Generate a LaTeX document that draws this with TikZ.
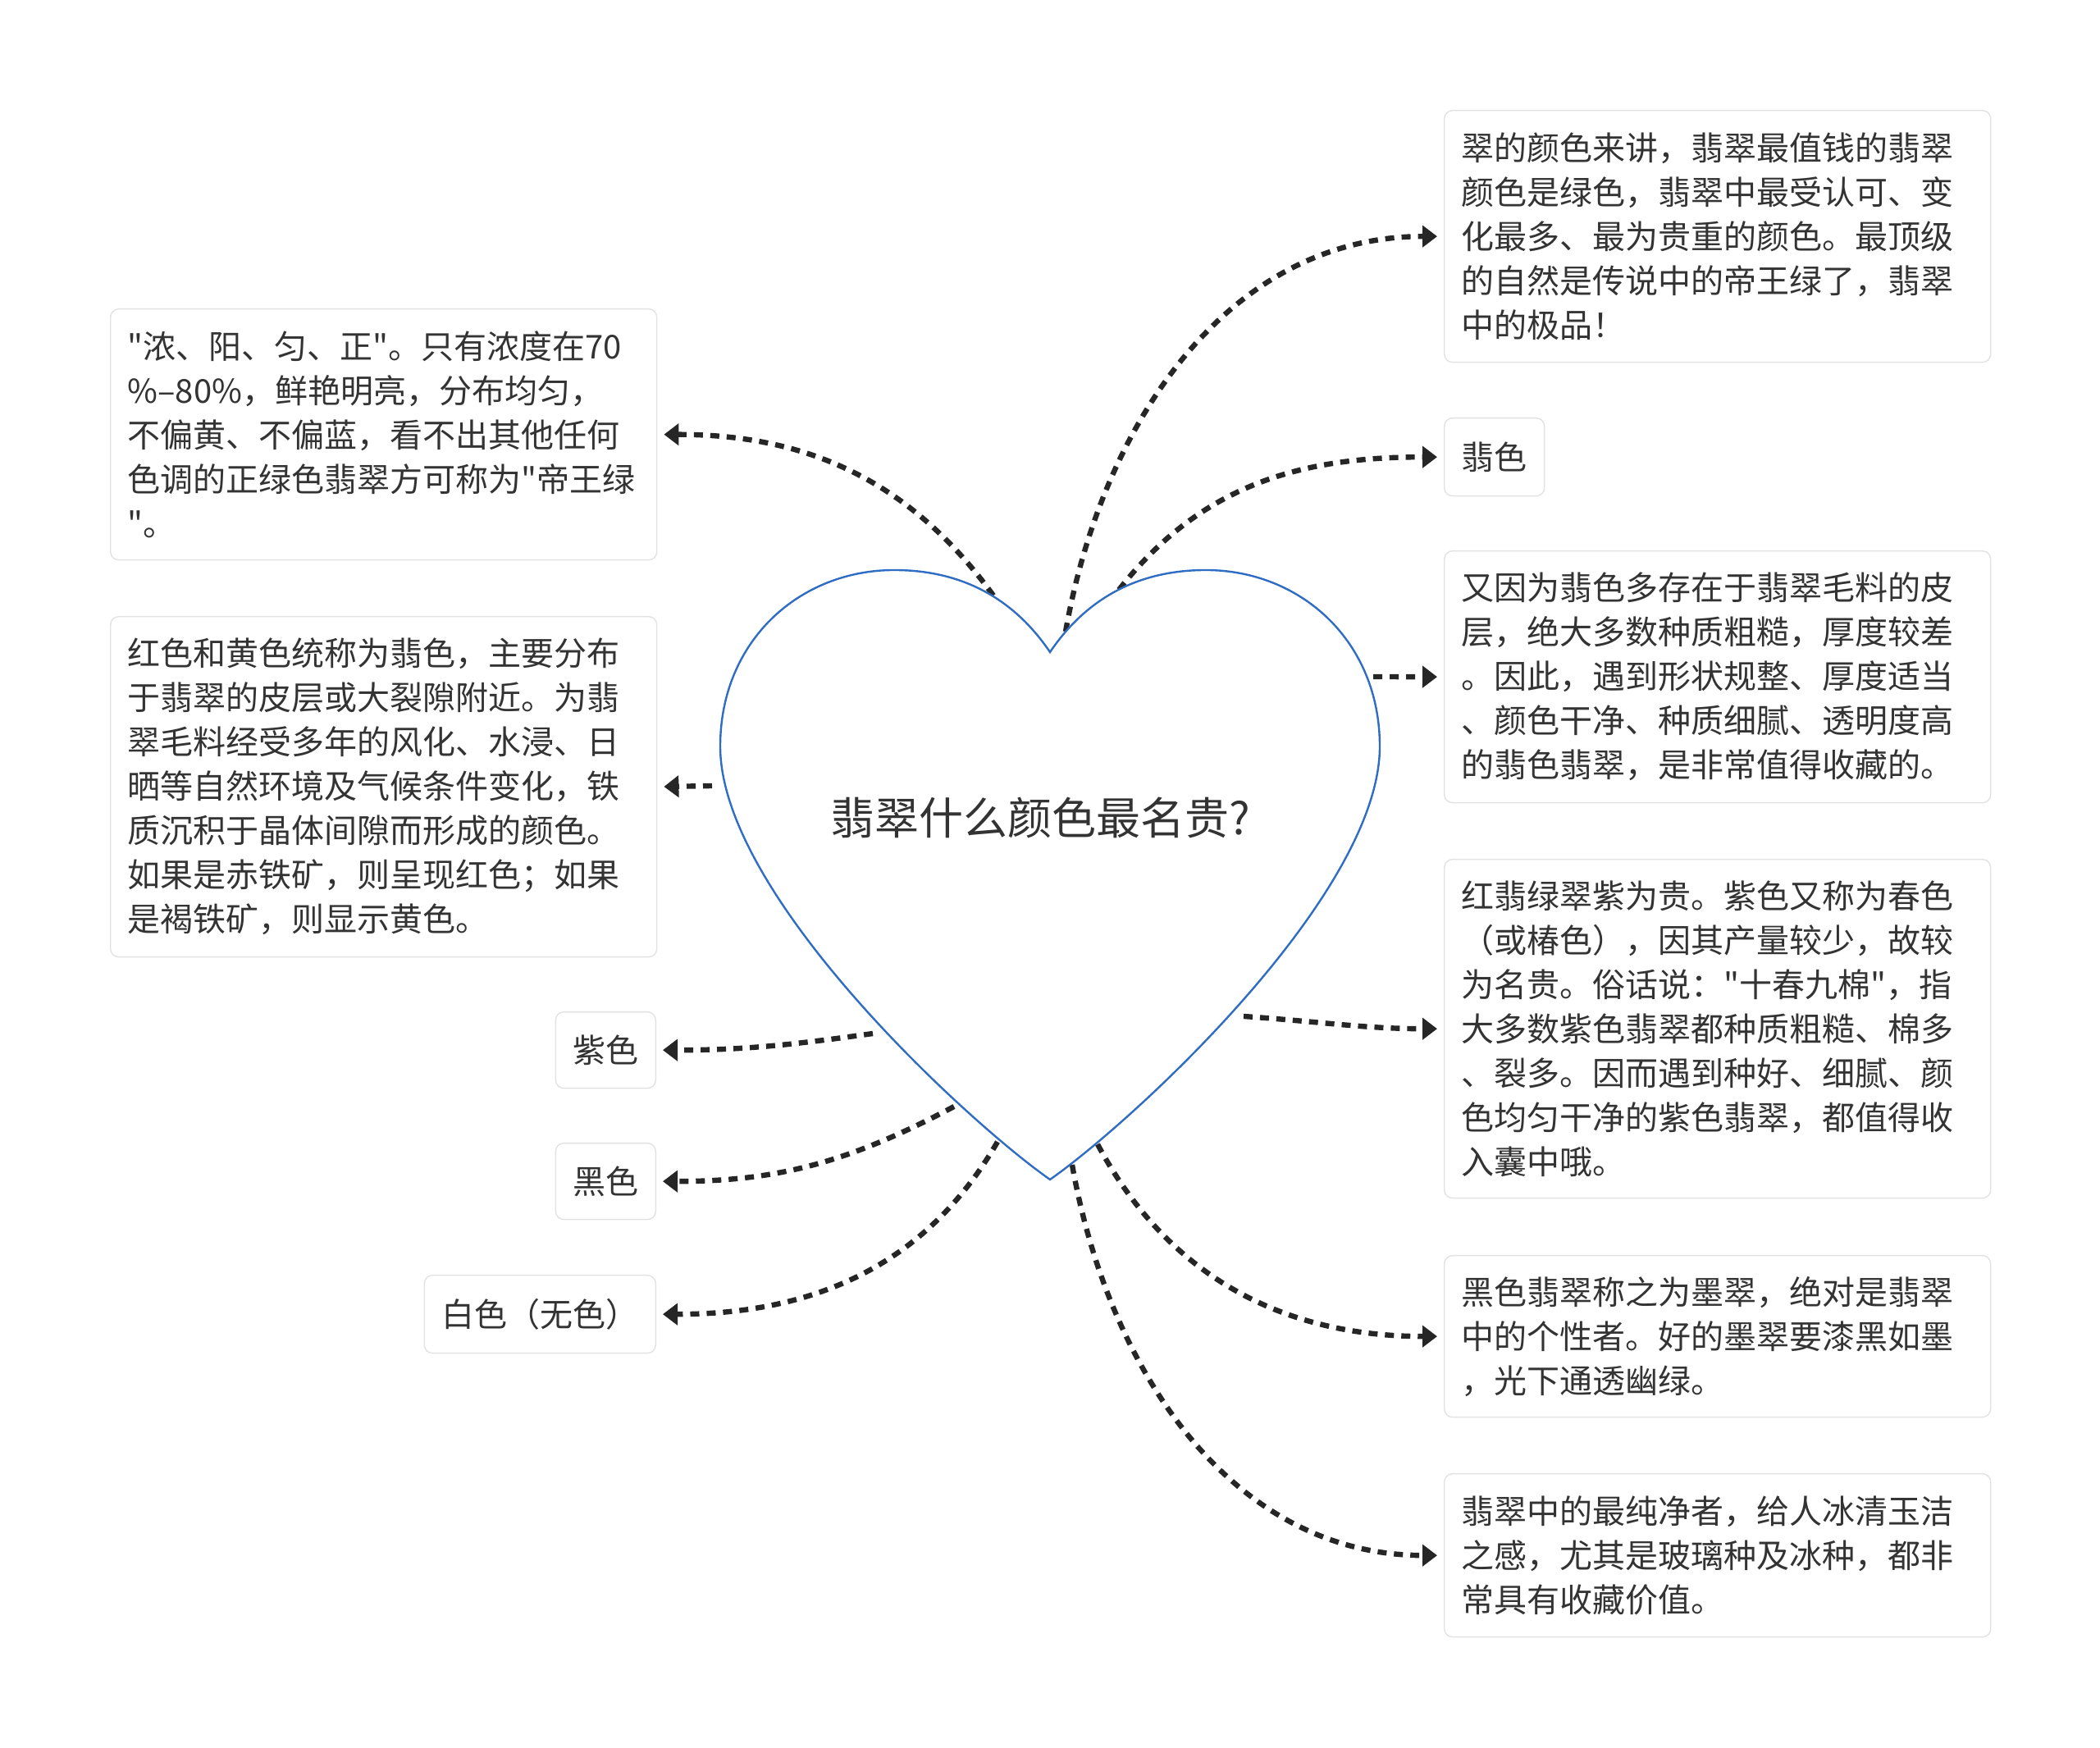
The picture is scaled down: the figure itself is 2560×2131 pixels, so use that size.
\documentclass[tikz,border=0pt]{standalone}
\usepackage{fontspec}
\newfontfamily\cjk{Noto Sans CJK SC}
\usetikzlibrary{arrows.meta}
\definecolor{heartblue}{HTML}{2F6CC4}
\definecolor{boxline}{HTML}{E2E2E2}
\definecolor{inkgray}{HTML}{333333}
\newcommand{\bodyfont}{\cjk\fontsize{10pt}{13.5pt}\selectfont}

\begin{document}
\begin{tikzpicture}[x=0.25pt,y=0.25pt,
    note/.style={draw=boxline,line width=0.35pt,rounded corners=2.5pt,fill=white,
      text=inkgray,inner xsep=5.25pt,inner ysep=0pt,font=\bodyfont},
    wide/.style={note,text width=156pt,align=left},
    link/.style={draw=black!85,line width=1.6pt,dash pattern=on 2.75pt off 2.25pt,
      -{Triangle[length=4.5pt,width=6.5pt]},shorten >=2pt}]
  \useasboundingbox (0,0) rectangle (2560,2131);
  % right side
  \node[wide,minimum height=76.75pt,anchor=north west] (R1) at (1760,1997) {翠的颜色来讲，翡翠最值钱的翡翠\\颜色是绿色，翡翠中最受认可、变\\化最多、最为贵重的颜色。最顶级\\的自然是传说中的帝王绿了，翡翠\\中的极品！};
  \node[note,minimum height=23.75pt,anchor=north west] (R2) at (1760,1622) {翡色};
  \node[wide,minimum height=76.75pt,anchor=north west] (R3) at (1760,1460) {又因为翡色多存在于翡翠毛料的皮\\层，绝大多数种质粗糙，厚度较差\\。因此，遇到形状规整、厚度适当\\、颜色干净、种质细腻、透明度高\\的翡色翡翠，是非常值得收藏的。};
  \node[wide,minimum height=103.25pt,anchor=north west] (R4) at (1760,1084) {红翡绿翠紫为贵。紫色又称为春色\\（或椿色），因其产量较少，故较\\为名贵。俗话说："十春九棉"，指\\大多数紫色翡翠都种质粗糙、棉多\\、裂多。因而遇到种好、细腻、颜\\色均匀干净的紫色翡翠，都值得收\\入囊中哦。};
  \node[wide,minimum height=49.25pt,anchor=north west] (R5) at (1760,601) {黑色翡翠称之为墨翠，绝对是翡翠\\中的个性者。好的墨翠要漆黑如墨\\，光下通透幽绿。};
  \node[wide,minimum height=49.75pt,anchor=north west] (R6) at (1760,335) {翡翠中的最纯净者，给人冰清玉洁\\之感，尤其是玻璃种及冰种，都非\\常具有收藏价值。};
  % left side
  \node[wide,minimum height=76.5pt,anchor=north west] (L1) at (134,1755) {"浓、阳、匀、正"。只有浓度在70\\\%–80\%，鲜艳明亮，分布均匀，\\不偏黄、不偏蓝，看不出其他任何\\色调的正绿色翡翠方可称为"帝王绿\\"。};
  \node[wide,minimum height=103.75pt,anchor=north west] (L2) at (134,1380) {红色和黄色统称为翡色，主要分布\\于翡翠的皮层或大裂隙附近。为翡\\翠毛料经受多年的风化、水浸、日\\晒等自然环境及气候条件变化，铁\\质沉积于晶体间隙而形成的颜色。\\如果是赤铁矿，则呈现红色；如果\\是褐铁矿，则显示黄色。};
  \node[note,minimum height=23.25pt,anchor=north east] (L3) at (800,898) {紫色};
  \node[note,minimum height=23.25pt,anchor=north east] (L4) at (800,738) {黑色};
  \node[note,minimum height=23.75pt,anchor=north east] (L5) at (800,577) {白色（无色）};
  % where the links leave the heart
  \coordinate (s1) at (1299,1361);
  \coordinate (s2) at (1364,1412);
  \coordinate (s3) at (1674,1306);
  \coordinate (s4) at (1516,892);
  \coordinate (s5) at (1338,736);
  \coordinate (s6) at (1307,711);
  \coordinate (t1) at (1211,1405);
  \coordinate (t2) at (868,1173);
  \coordinate (t3) at (1064,871);
  \coordinate (t4) at (1163,782);
  \coordinate (t5) at (1216,739);
  \draw[link] (s1) to[out=80,in=180] (R1.west);
  \draw[link] (s2) to[out=52,in=180] (R2.west);
  \draw[link] (s3) -- (R3.west);
  \draw[link] (s4) to[out=-4,in=180] (R4.west);
  \draw[link] (s5) to[out=-62,in=180] (R5.west);
  \draw[link] (s6) to[out=-80,in=180] (R6.west);
  \draw[link] (t1) to[out=126,in=0] (L1.east);
  \draw[link] (t2) -- (L2.east);
  \draw[link] (t3) to[out=188,in=0] (L3.east);
  \draw[link] (t4) to[out=208,in=0] (L4.east);
  \draw[link] (t5) to[out=240,in=0] (L5.east);
  % heart
  \draw[heartblue,line width=0.6pt,fill=white] (1280,693)
    .. controls (1180,763) and (878,1040) .. (878,1221)
    .. controls (878,1350) and (975,1436) .. (1090,1436)
    .. controls (1180,1436) and (1240,1395) .. (1280,1336)
    .. controls (1320,1395) and (1380,1436) .. (1470,1436)
    .. controls (1585,1436) and (1682,1350) .. (1682,1221)
    .. controls (1682,1040) and (1380,763) .. (1280,693) -- cycle;
  \node[text=inkgray,font=\cjk\fontsize{13.5pt}{16pt}\selectfont] (T) at (1268,1134) {翡翠什么颜色最名贵?};
\end{tikzpicture}
\end{document}
